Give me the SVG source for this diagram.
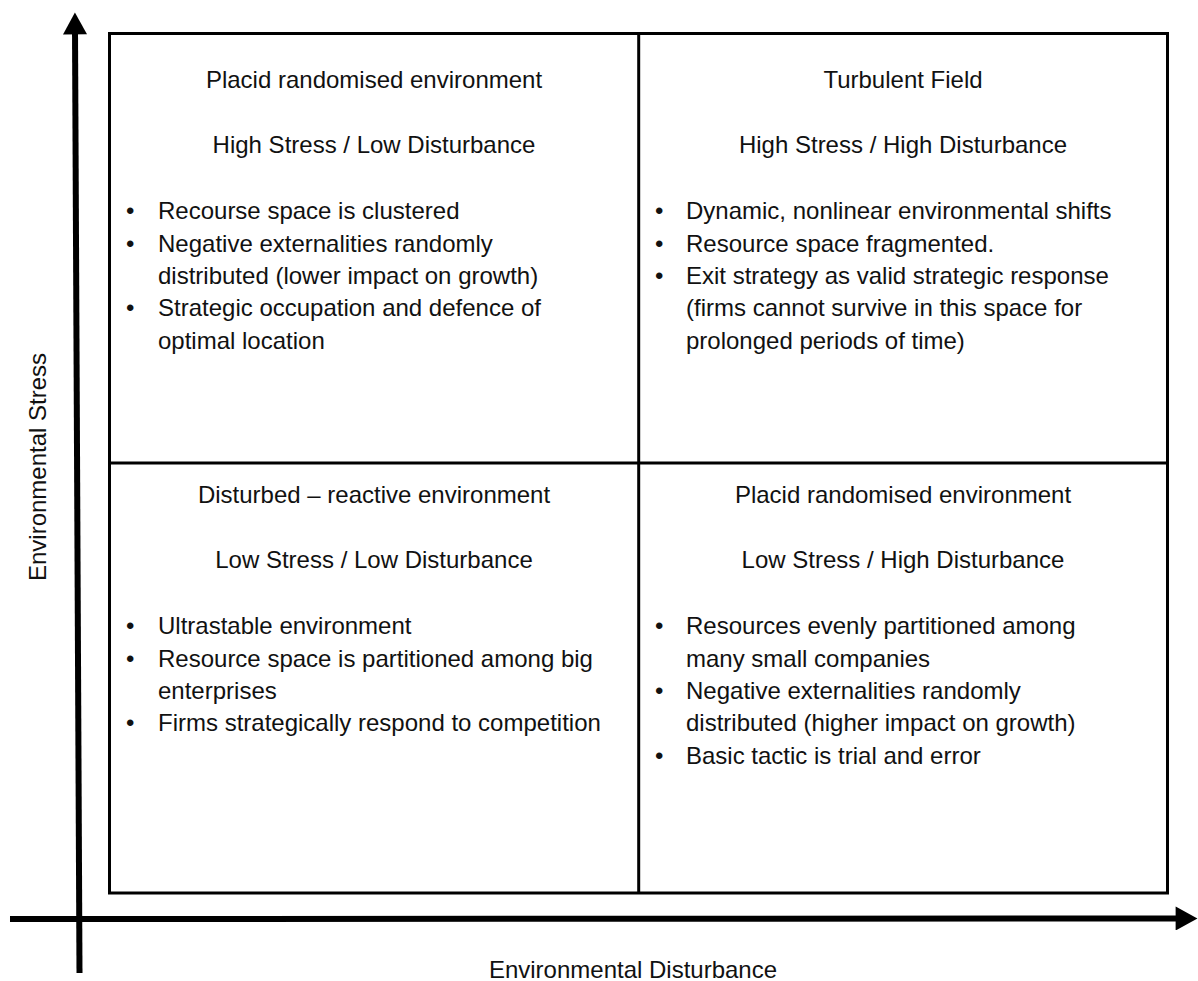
<svg xmlns="http://www.w3.org/2000/svg" width="1198" height="981" viewBox="0 0 1198 981">
<defs>
<style>
text{font-family:"Liberation Sans",Arial,sans-serif;font-size:24px;fill:#111;}
.c{text-anchor:middle;}
.grid{fill:none;stroke:#000;stroke-width:3;}
.axis{stroke:#000;stroke-width:6;fill:none;}
</style>
<marker id="ah" markerUnits="userSpaceOnUse" markerWidth="24" markerHeight="24" viewBox="0 0 20 22" refX="4" refY="11" orient="auto">
<path d="M0,0 L20,11 L0,22 Z" fill="#000"/>
</marker>
</defs>
<rect width="1198" height="981" fill="#fff"/>
<g id="grid">
<rect class="grid" x="109.5" y="33.5" width="1058" height="859.5"/>
<line class="grid" x1="638.7" y1="33.5" x2="638.7" y2="893"/>
<line class="grid" x1="109.5" y1="463" x2="1167.5" y2="463"/>
</g>
<g id="connectors">
<line class="axis" x1="79.5" y1="973" x2="75" y2="30" marker-end="url(#ah)"/>
<line class="axis" x1="10" y1="919" x2="1180" y2="918.5" marker-end="url(#ah)"/>
</g>
<g id="q-top-left">
<text class="c" x="374" y="88">Placid randomised environment</text>
<text class="c" x="374" y="153">High Stress / Low Disturbance</text>
<text x="126" y="219">•</text><text x="158" y="219">Recourse space is clustered</text>
<text x="126" y="251.5">•</text><text x="158" y="251.5">Negative externalities randomly</text>
<text x="158" y="284">distributed (lower impact on growth)</text>
<text x="126" y="316">•</text><text x="158" y="316">Strategic occupation and defence of</text>
<text x="158" y="348.5">optimal location</text>
</g>
<g id="q-top-right">
<text class="c" x="903" y="88">Turbulent Field</text>
<text class="c" x="903" y="153">High Stress / High Disturbance</text>
<text x="655" y="219">•</text><text x="686" y="219">Dynamic, nonlinear environmental shifts</text>
<text x="655" y="251.5">•</text><text x="686" y="251.5">Resource space fragmented.</text>
<text x="655" y="284">•</text><text x="686" y="284">Exit strategy as valid strategic response</text>
<text x="686" y="316">(firms cannot survive in this space for</text>
<text x="686" y="348.5">prolonged periods of time)</text>
</g>
<g id="q-bottom-left">
<text class="c" x="374" y="503">Disturbed – reactive environment</text>
<text class="c" x="374" y="568">Low Stress / Low Disturbance</text>
<text x="126" y="634">•</text><text x="158" y="634">Ultrastable environment</text>
<text x="126" y="666.5">•</text><text x="158" y="666.5">Resource space is partitioned among big</text>
<text x="158" y="699">enterprises</text>
<text x="126" y="731">•</text><text x="158" y="731">Firms strategically respond to competition</text>
</g>
<g id="q-bottom-right">
<text class="c" x="903" y="503">Placid randomised environment</text>
<text class="c" x="903" y="568">Low Stress / High Disturbance</text>
<text x="655" y="634">•</text><text x="686" y="634">Resources evenly partitioned among</text>
<text x="686" y="666.5">many small companies</text>
<text x="655" y="699">•</text><text x="686" y="699">Negative externalities randomly</text>
<text x="686" y="731">distributed (higher impact on growth)</text>
<text x="655" y="763.5">•</text><text x="686" y="763.5">Basic tactic is trial and error</text>
</g>
<g id="axis-labels">
<text class="c" transform="translate(46,467) rotate(-90)" x="0" y="0">Environmental Stress</text>
<text class="c" x="633" y="978">Environmental Disturbance</text>
</g>
</svg>
